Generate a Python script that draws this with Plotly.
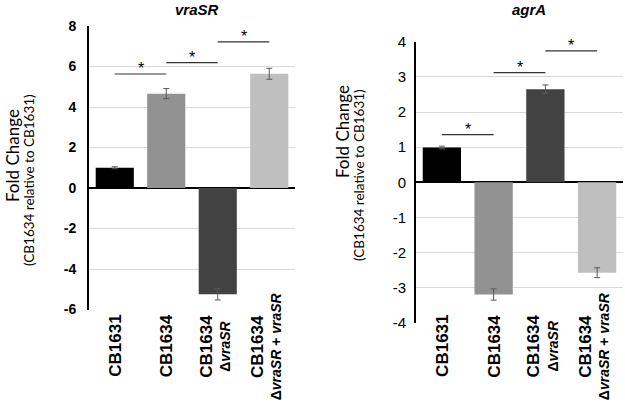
import plotly.graph_objects as go

categories = ["CB1631", "CB1634",
              "CB1634<br>Δ<i>vraSR</i>",
              "CB1634<br>Δ<i>vraSR</i> + <i>vraSR</i>"]
bar_colors = ["#000000", "#929292", "#424242", "#bfbfbf"]

vrasr_values = [1.0, 4.66, -5.25, 5.64]
vrasr_errors = [0.05, 0.25, 0.28, 0.27]
agra_values = [0.99, -3.19, 2.65, -2.57]
agra_errors = [0.04, 0.16, 0.12, 0.14]

vrasr_ticks = [-6, -4, -2, 0, 2, 4, 6, 8]
vrasr_ticktext = ["-6", "-4", "-2", "0", "2", "4", "6", "8"]
agra_ticks = [-4, -3, -2, -1, 0, 1, 2, 3, 4]
agra_ticktext = ["-4", "-3", "-2", "-1", "0", "1", "2", "3", "4"]

# significance brackets: (from category index, to category index, height)
vrasr_sig = [(0, 1, 5.63), (1, 2, 6.19), (2, 3, 7.22)]
agra_sig = [(0, 1, 1.36), (1, 2, 3.12), (2, 3, 3.74)]

W, H = 625, 404
fig = go.Figure()

fig.add_trace(go.Bar(x=list(range(4)), y=vrasr_values, marker_color=bar_colors,
                     marker_line_width=0, width=0.74,
                     error_y=dict(type="data", array=vrasr_errors, color="#5a5a5a",
                                  thickness=1, width=3),
                     xaxis="x", yaxis="y", showlegend=False))
fig.add_trace(go.Bar(x=list(range(4)), y=agra_values, marker_color=bar_colors,
                     marker_line_width=0, width=0.74,
                     error_y=dict(type="data", array=agra_errors, color="#5a5a5a",
                                  thickness=1, width=3),
                     xaxis="x2", yaxis="y2", showlegend=False))

def px_x(p):
    return p / W

def px_y(p):
    return (H - p) / H

xcommon = dict(tickmode="array", tickvals=list(range(4)), showticklabels=False,
               range=[-0.5, 3.5], showgrid=False, showline=False,
               zeroline=False, ticks="", automargin=False)
ycommon = dict(showgrid=True, gridcolor="#d9d9d9", gridwidth=1, zeroline=True,
               zerolinecolor="#000000", zerolinewidth=1.5, showline=True,
               linecolor="#000000", linewidth=2, ticks="", automargin=False,
               tickmode="array")

fig.update_layout(
    width=W, height=H, margin=dict(l=0, r=0, t=0, b=0, autoexpand=False),
    plot_bgcolor="white", paper_bgcolor="white", bargap=0.26,
    xaxis=dict(domain=[px_x(89), px_x(295)], anchor="y", **xcommon),
    yaxis=dict(domain=[px_y(309.5), px_y(26)], anchor="x", range=[-6, 8],
               tickvals=vrasr_ticks, ticktext=vrasr_ticktext, ticklabelstandoff=8,
               tickfont=dict(family="Liberation Sans, Arial", size=14, color="#000", weight="bold"),
               **ycommon),
    xaxis2=dict(domain=[px_x(416), px_x(623)], anchor="y2", **xcommon),
    yaxis2=dict(domain=[px_y(323), px_y(41.7)], anchor="x2", range=[-4, 4],
                tickvals=agra_ticks, ticktext=agra_ticktext, ticklabelstandoff=5,
                tickfont=dict(family="Liberation Sans, Arial", size=15, color="#000"),
                **ycommon),
)

shapes = []
annotations = []
for sig, xr, yr in [(vrasr_sig, "x", "y"), (agra_sig, "x2", "y2")]:
    for a, b, h in sig:
        shapes.append(dict(type="line", xref=xr, yref=yr, x0=a, x1=b, y0=h, y1=h,
                           line=dict(color="#333333", width=1.2)))
        annotations.append(dict(xref=xr, yref=yr, x=(a + b) / 2, y=h, text="*",
                                showarrow=False, yanchor="bottom", yshift=-5,
                                font=dict(family="Liberation Sans, Arial", size=16, color="#000")))

# category labels (rotated, centred like the original)
for xr in ["x", "x2"]:
    for i, lab in enumerate(categories):
        parts = lab.split("<br>")
        txt = "<span style='font-size:17px'>" + parts[0] + "</span>"
        if len(parts) > 1:
            txt += "<br>" + parts[1]
        annotations.append(dict(xref=xr, yref="paper", x=i, y=px_y(346), text="<b>" + txt + "</b>",
                                textangle=-90, showarrow=False, align="center",
                                xanchor="center", yanchor="middle",
                                xshift=(-3 if len(parts) > 1 else 0),
                                font=dict(family="Liberation Sans, Arial", size=14, color="#000")))

# titles
annotations.append(dict(xref="paper", yref="paper", x=px_x(197), y=px_y(9), text="<b><i>vraSR</i></b>",
                        showarrow=False, xanchor="center", yanchor="middle",
                        font=dict(family="Liberation Sans, Arial", size=15, color="#000")))
annotations.append(dict(xref="paper", yref="paper", x=px_x(529), y=px_y(9), text="<b><i>agrA</i></b>",
                        showarrow=False, xanchor="center", yanchor="middle",
                        font=dict(family="Liberation Sans, Arial", size=15, color="#000")))

# axis titles
for (x1, y1, x2, y2) in [(12, 156, 29, 180), (343, 132, 359, 175)]:
    annotations.append(dict(xref="paper", yref="paper", x=px_x(x1), y=px_y(y1), text="Fold Change",
                            textangle=-90, showarrow=False, xanchor="center", yanchor="middle",
                            font=dict(family="Lato", size=17, color="#000")))
    annotations.append(dict(xref="paper", yref="paper", x=px_x(x2), y=px_y(y2),
                            text="(CB1634 relative to CB1631)", textangle=-90, showarrow=False,
                            xanchor="center", yanchor="middle",
                            font=dict(family="Lato", size=13.5, color="#000")))

fig.update_layout(shapes=shapes, annotations=annotations)
fig.write_html("out.html", config={"displayModeBar": False},
               post_script="document.body.style.margin='0px';")
